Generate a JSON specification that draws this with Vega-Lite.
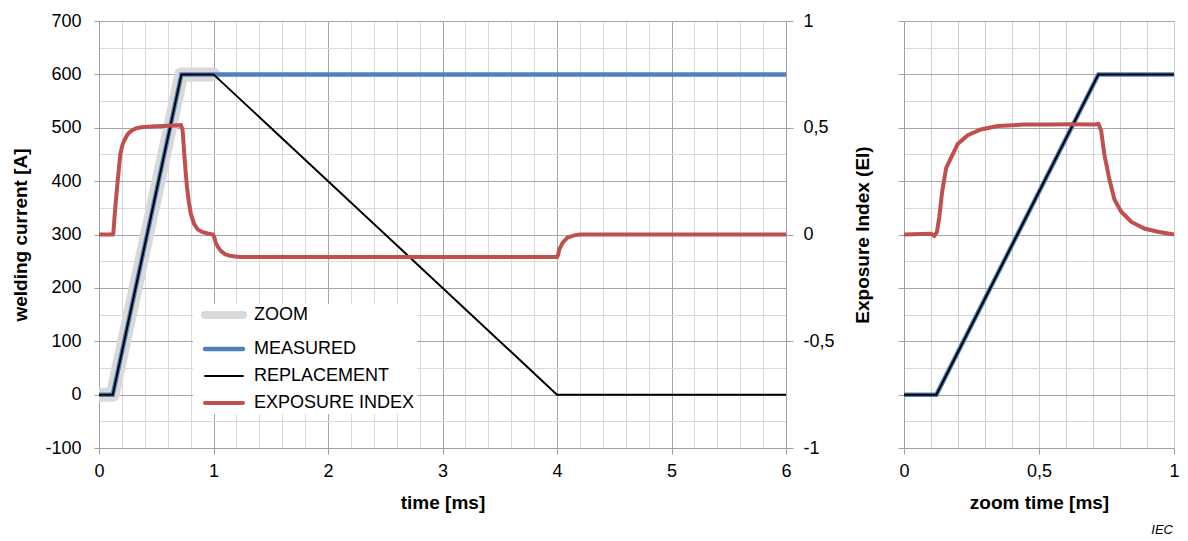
{
  "$schema": "https://vega.github.io/schema/vega-lite/v6.json",
  "padding": {"left": 11, "top": 12, "right": 8, "bottom": 4},
  "background": "white",
  "title": {"text": "IEC", "orient": "bottom", "anchor": "end", "font": "Liberation Sans", "fontSize": 13, "fontStyle": "italic", "fontWeight": "normal", "color": "#000", "offset": 12, "dx": -10},
  "config": {
    "view": {"stroke": null},
    "axis": {
      "labelFont": "Liberation Sans", "labelFontSize": 18, "labelColor": "#000",
      "titleFont": "Liberation Sans", "titleFontSize": 19, "titleFontWeight": "bold", "titleColor": "#000",
      "domainColor": "#a0a0a0", "tickColor": "#a0a0a0", "labelOverlap": false, "labelFlush": false
    },
    "legend": {"labelFont": "Liberation Sans", "labelFontSize": 18, "labelColor": "#000"}
  },
  "datasets": {
    "current": [
      {"series": "ZOOM", "t": 0, "value": 0},
      {"series": "ZOOM", "t": 0.12, "value": 0},
      {"series": "ZOOM", "t": 0.72, "value": 600},
      {"series": "ZOOM", "t": 1, "value": 600},
      {"series": "MEASURED", "t": 0, "value": 0},
      {"series": "MEASURED", "t": 0.12, "value": 0},
      {"series": "MEASURED", "t": 0.72, "value": 600},
      {"series": "MEASURED", "t": 6, "value": 600},
      {"series": "REPLACEMENT", "t": 0, "value": 0},
      {"series": "REPLACEMENT", "t": 0.12, "value": 0},
      {"series": "REPLACEMENT", "t": 0.72, "value": 600},
      {"series": "REPLACEMENT", "t": 1, "value": 600},
      {"series": "REPLACEMENT", "t": 4, "value": 0},
      {"series": "REPLACEMENT", "t": 6, "value": 0}
    ],
    "exposure": [
      {"series": "EXPOSURE INDEX", "t": 0, "ei": 0},
      {"series": "EXPOSURE INDEX", "t": 0.12, "ei": 0},
      {"series": "EXPOSURE INDEX", "t": 0.125, "ei": 0.005},
      {"series": "EXPOSURE INDEX", "t": 0.142, "ei": 0.125},
      {"series": "EXPOSURE INDEX", "t": 0.163, "ei": 0.25},
      {"series": "EXPOSURE INDEX", "t": 0.186, "ei": 0.375},
      {"series": "EXPOSURE INDEX", "t": 0.205, "ei": 0.42},
      {"series": "EXPOSURE INDEX", "t": 0.221, "ei": 0.44},
      {"series": "EXPOSURE INDEX", "t": 0.245, "ei": 0.465},
      {"series": "EXPOSURE INDEX", "t": 0.265, "ei": 0.478},
      {"series": "EXPOSURE INDEX", "t": 0.295, "ei": 0.49},
      {"series": "EXPOSURE INDEX", "t": 0.323, "ei": 0.497},
      {"series": "EXPOSURE INDEX", "t": 0.37, "ei": 0.502},
      {"series": "EXPOSURE INDEX", "t": 0.425, "ei": 0.505},
      {"series": "EXPOSURE INDEX", "t": 0.5, "ei": 0.507},
      {"series": "EXPOSURE INDEX", "t": 0.57, "ei": 0.508},
      {"series": "EXPOSURE INDEX", "t": 0.65, "ei": 0.51},
      {"series": "EXPOSURE INDEX", "t": 0.716, "ei": 0.512},
      {"series": "EXPOSURE INDEX", "t": 0.73, "ei": 0.49},
      {"series": "EXPOSURE INDEX", "t": 0.745, "ei": 0.375},
      {"series": "EXPOSURE INDEX", "t": 0.757, "ei": 0.29},
      {"series": "EXPOSURE INDEX", "t": 0.769, "ei": 0.22},
      {"series": "EXPOSURE INDEX", "t": 0.785, "ei": 0.15},
      {"series": "EXPOSURE INDEX", "t": 0.803, "ei": 0.095},
      {"series": "EXPOSURE INDEX", "t": 0.83, "ei": 0.05},
      {"series": "EXPOSURE INDEX", "t": 0.862, "ei": 0.024},
      {"series": "EXPOSURE INDEX", "t": 0.9, "ei": 0.012},
      {"series": "EXPOSURE INDEX", "t": 0.949, "ei": 0.005},
      {"series": "EXPOSURE INDEX", "t": 0.995, "ei": 0},
      {"series": "EXPOSURE INDEX", "t": 1.005, "ei": -0.01},
      {"series": "EXPOSURE INDEX", "t": 1.02, "ei": -0.038},
      {"series": "EXPOSURE INDEX", "t": 1.04, "ei": -0.06},
      {"series": "EXPOSURE INDEX", "t": 1.066, "ei": -0.078},
      {"series": "EXPOSURE INDEX", "t": 1.1, "ei": -0.092},
      {"series": "EXPOSURE INDEX", "t": 1.138, "ei": -0.099},
      {"series": "EXPOSURE INDEX", "t": 1.19, "ei": -0.103},
      {"series": "EXPOSURE INDEX", "t": 1.24, "ei": -0.105},
      {"series": "EXPOSURE INDEX", "t": 4.0, "ei": -0.105},
      {"series": "EXPOSURE INDEX", "t": 4.01, "ei": -0.095},
      {"series": "EXPOSURE INDEX", "t": 4.02, "ei": -0.07},
      {"series": "EXPOSURE INDEX", "t": 4.05, "ei": -0.038},
      {"series": "EXPOSURE INDEX", "t": 4.09, "ei": -0.015},
      {"series": "EXPOSURE INDEX", "t": 4.15, "ei": -0.004},
      {"series": "EXPOSURE INDEX", "t": 4.2, "ei": 0},
      {"series": "EXPOSURE INDEX", "t": 6, "ei": 0}
    ],
    "zoomCurrent": [
      {"series": "MEASURED", "t": 0, "value": 0},
      {"series": "MEASURED", "t": 0.12, "value": 0},
      {"series": "MEASURED", "t": 0.72, "value": 600},
      {"series": "MEASURED", "t": 1, "value": 600},
      {"series": "REPLACEMENT", "t": 0, "value": 0},
      {"series": "REPLACEMENT", "t": 0.12, "value": 0},
      {"series": "REPLACEMENT", "t": 0.72, "value": 600},
      {"series": "REPLACEMENT", "t": 1, "value": 600}
    ],
    "zoomExposure": [
      {"series": "EXPOSURE INDEX", "t": 0, "ei": 0},
      {"series": "EXPOSURE INDEX", "t": 0.1, "ei": 0.003},
      {"series": "EXPOSURE INDEX", "t": 0.112, "ei": -0.006},
      {"series": "EXPOSURE INDEX", "t": 0.122, "ei": 0.011},
      {"series": "EXPOSURE INDEX", "t": 0.131, "ei": 0.084},
      {"series": "EXPOSURE INDEX", "t": 0.141, "ei": 0.198},
      {"series": "EXPOSURE INDEX", "t": 0.156, "ei": 0.311},
      {"series": "EXPOSURE INDEX", "t": 0.174, "ei": 0.359},
      {"series": "EXPOSURE INDEX", "t": 0.199, "ei": 0.424},
      {"series": "EXPOSURE INDEX", "t": 0.236, "ei": 0.465},
      {"series": "EXPOSURE INDEX", "t": 0.285, "ei": 0.492},
      {"series": "EXPOSURE INDEX", "t": 0.347, "ei": 0.508},
      {"series": "EXPOSURE INDEX", "t": 0.446, "ei": 0.515},
      {"series": "EXPOSURE INDEX", "t": 0.533, "ei": 0.515},
      {"series": "EXPOSURE INDEX", "t": 0.62, "ei": 0.516},
      {"series": "EXPOSURE INDEX", "t": 0.705, "ei": 0.515},
      {"series": "EXPOSURE INDEX", "t": 0.72, "ei": 0.518},
      {"series": "EXPOSURE INDEX", "t": 0.73, "ei": 0.488},
      {"series": "EXPOSURE INDEX", "t": 0.742, "ei": 0.375},
      {"series": "EXPOSURE INDEX", "t": 0.76, "ei": 0.262},
      {"series": "EXPOSURE INDEX", "t": 0.779, "ei": 0.165},
      {"series": "EXPOSURE INDEX", "t": 0.804, "ei": 0.108},
      {"series": "EXPOSURE INDEX", "t": 0.841, "ei": 0.06},
      {"series": "EXPOSURE INDEX", "t": 0.89, "ei": 0.028},
      {"series": "EXPOSURE INDEX", "t": 0.94, "ei": 0.013},
      {"series": "EXPOSURE INDEX", "t": 1.0, "ei": 0}
    ]
  },
  "hconcat": [
    {
      "width": 687,
      "height": 427,
      "layer": [
        {
          "data": {"name": "current"},
          "encoding": {
            "x": {
              "field": "t", "type": "quantitative",
              "scale": {"domain": [0, 6], "nice": false},
              "axis": {
                "title": "time [ms]", "titlePadding": 13,
                "values": [0, 0.2, 0.4, 0.6, 0.8, 1, 1.2, 1.4, 1.6, 1.8, 2, 2.2, 2.4, 2.6, 2.8, 3, 3.2, 3.4, 3.6, 3.8, 4, 4.2, 4.4, 4.6, 4.8, 5, 5.2, 5.4, 5.6, 5.8, 6],
                "tickCount": 1000,
                "labelExpr": "datum.value % 1 === 0 ? toString(datum.value) : ''",
                "labelOverlap": false, "labelFlush": false,
                "tickSize": 6, "labelPadding": 8,
                "tickOpacity": {"condition": {"test": "datum.value % 1 === 0", "value": 1}, "value": 0},
                "gridColor": {"condition": {"test": "datum.value % 1 === 0", "value": "#a6a6a6"}, "value": "#d9d9d9"}
              }
            },
            "y": {
              "field": "value", "type": "quantitative",
              "scale": {"domain": [-100, 700], "nice": false, "zero": false},
              "axis": {
                "title": "welding current [A]", "titlePadding": 14,
                "values": [-100, -50, 0, 50, 100, 150, 200, 250, 300, 350, 400, 450, 500, 550, 600, 650, 700],
                "tickCount": 1000,
                "labelExpr": "datum.value % 100 === 0 ? toString(datum.value) : ''",
                "labelOverlap": false,
                "tickSize": 5, "labelPadding": 13,
                "tickOpacity": {"condition": {"test": "datum.value % 100 === 0", "value": 1}, "value": 0},
                "gridColor": {"condition": {"test": "datum.value % 100 === 0", "value": "#a6a6a6"}, "value": "#d9d9d9"}
              }
            },
            "color": {
              "field": "series", "type": "nominal",
              "scale": {"domain": ["ZOOM", "MEASURED", "REPLACEMENT", "EXPOSURE INDEX"], "range": ["#d9d9d9", "#4f81bd", "#000000", "#c0504d"]},
              "legend": {
                "title": null, "orient": "none", "legendX": 94, "legendY": 283,
                "symbolType": "stroke", "symbolSize": 1444, "symbolOffset": 20,
                "labelOffset": 21, "labelLimit": 400, "rowPadding": 9, "padding": 2,
                "fillColor": "white", "strokeColor": null,
                "encode": {
                  "symbols": {
                    "update": {
                      "strokeWidth": {"signal": "datum.value === 'ZOOM' ? 8 : datum.value === 'MEASURED' ? 4.5 : datum.value === 'REPLACEMENT' ? 2 : 4"},
                      "strokeCap": {"value": "round"}
                    }
                  }
                }
              }
            }
          },
          "layer": [
            {
              "transform": [{"filter": "datum.series === 'ZOOM'"}],
              "mark": {"type": "line", "strokeWidth": 14, "strokeCap": "round", "strokeJoin": "round", "clip": true}
            },
            {
              "transform": [{"filter": "datum.series === 'MEASURED'"}],
              "mark": {"type": "line", "strokeWidth": 4.5}
            },
            {
              "transform": [{"filter": "datum.series === 'REPLACEMENT'"}],
              "mark": {"type": "line", "strokeWidth": 2}
            }
          ]
        },
        {
          "data": {"name": "exposure"},
          "mark": {"type": "line", "strokeWidth": 4},
          "encoding": {
            "x": {"field": "t", "type": "quantitative"},
            "y": {
              "field": "ei", "type": "quantitative",
              "scale": {"domain": [-1, 1], "nice": false, "zero": false},
              "axis": {
                "orient": "right", "title": "Exposure Index  (EI)", "titleAngle": -90, "titlePadding": 38,
                "values": [-1, -0.5, 0, 0.5, 1], "tickCount": 1000, "grid": false, "labelOverlap": false,
                "labelExpr": "replace(toString(datum.value), '.', ',')",
                "tickSize": 7, "labelPadding": 10
              }
            },
            "color": {"field": "series", "type": "nominal"}
          }
        }
      ],
      "resolve": {"scale": {"y": "independent"}}
    },
    {
      "width": 270,
      "height": 427,
      "layer": [
        {
          "data": {"name": "zoomCurrent"},
          "encoding": {
            "x": {
              "field": "t", "type": "quantitative",
              "scale": {"domain": [0, 1], "nice": false},
              "axis": {
                "title": "zoom time [ms]", "titlePadding": 13,
                "values": [0, 0.1, 0.2, 0.3, 0.4, 0.5, 0.6, 0.7, 0.8, 0.9, 1],
                "tickCount": 1000,
                "labelExpr": "datum.value === 0 || datum.value === 0.5 || datum.value === 1 ? replace(toString(datum.value), '.', ',') : ''",
                "labelOverlap": false, "labelFlush": false,
                "tickSize": 6, "labelPadding": 8,
                "tickOpacity": {"condition": {"test": "datum.value === 0 || datum.value === 0.5 || datum.value === 1", "value": 1}, "value": 0},
                "gridColor": "#cfcfcf"
              }
            },
            "y": {
              "field": "value", "type": "quantitative",
              "scale": {"domain": [-100, 700], "nice": false, "zero": false},
              "axis": {
                "title": null, "labels": false,
                "values": [-100, -50, 0, 50, 100, 150, 200, 250, 300, 350, 400, 450, 500, 550, 600, 650, 700],
                "tickCount": 1000,
                "tickSize": 6,
                "tickOpacity": {"condition": {"test": "datum.value % 100 === 0", "value": 1}, "value": 0},
                "gridColor": {"condition": {"test": "datum.value % 100 === 0", "value": "#a6a6a6"}, "value": "#d9d9d9"}
              }
            },
            "color": {
              "field": "series", "type": "nominal",
              "scale": {"domain": ["ZOOM", "MEASURED", "REPLACEMENT", "EXPOSURE INDEX"], "range": ["#d9d9d9", "#4f81bd", "#000000", "#c0504d"]},
              "legend": null
            }
          },
          "layer": [
            {
              "transform": [{"filter": "datum.series === 'MEASURED'"}],
              "mark": {"type": "line", "strokeWidth": 4.5}
            },
            {
              "transform": [{"filter": "datum.series === 'REPLACEMENT'"}],
              "mark": {"type": "line", "strokeWidth": 2}
            }
          ]
        },
        {
          "data": {"name": "zoomExposure"},
          "mark": {"type": "line", "strokeWidth": 4},
          "encoding": {
            "x": {"field": "t", "type": "quantitative"},
            "y": {
              "field": "ei", "type": "quantitative",
              "scale": {"domain": [-1, 1], "nice": false, "zero": false},
              "axis": null
            },
            "color": {"field": "series", "type": "nominal", "legend": null}
          }
        }
      ],
      "resolve": {"scale": {"y": "independent"}}
    }
  ],
  "spacing": 118,
  "bounds": "flush",
  "resolve": {"scale": {"color": "independent"}, "legend": {"color": "independent"}}
}
